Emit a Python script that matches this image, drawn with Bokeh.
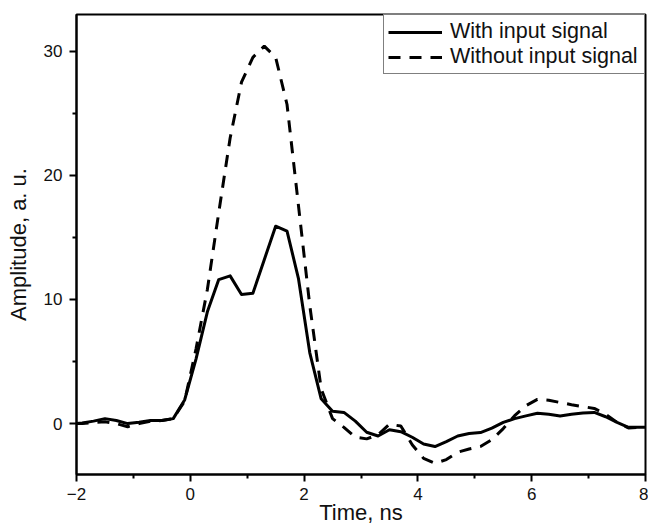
from bokeh.plotting import figure
from bokeh.models import Range1d, FixedTicker, Legend, LegendItem
from bokeh.embed import file_html
from bokeh.resources import INLINE

# ---- data ----
time_ns = [-2.0, -1.9, -1.7, -1.5, -1.3, -1.1, -0.9, -0.7, -0.5, -0.3, -0.1,
           0.1, 0.3, 0.5, 0.7, 0.9, 1.1, 1.3, 1.5, 1.7, 1.9,
           2.1, 2.3, 2.5, 2.7, 2.9, 3.1, 3.3, 3.5, 3.7, 3.9,
           4.1, 4.3, 4.5, 4.7, 4.9, 5.1, 5.3, 5.5, 5.7, 5.9,
           6.1, 6.3, 6.5, 6.7, 6.9, 7.1, 7.3, 7.5, 7.7, 7.9, 8.0]

with_signal = [0.0, 0.05, 0.2, 0.4, 0.25, 0.0, 0.1, 0.25, 0.25, 0.4, 1.9,
               5.2, 9.0, 11.6, 11.9, 10.4, 10.5, 13.2, 15.9, 15.5, 11.7,
               5.7, 2.0, 1.0, 0.9, 0.2, -0.7, -1.0, -0.5, -0.65, -1.1,
               -1.65, -1.85, -1.45, -1.0, -0.8, -0.72, -0.37, 0.1, 0.4, 0.62,
               0.84, 0.75, 0.62, 0.75, 0.85, 0.9, 0.55, 0.1, -0.3, -0.3, -0.3]

without_signal = [0.0, 0.0, 0.1, 0.15, 0.0, -0.25, 0.0, 0.2, 0.25, 0.4, 1.8,
                  6.0, 10.8, 17.0, 23.0, 27.5, 29.5, 30.4, 29.5, 25.7, 17.6,
                  9.5, 2.8, 0.4, -0.3, -1.1, -1.23, -0.9, -0.05, -0.2, -1.7,
                  -2.8, -3.2, -2.9, -2.3, -2.05, -1.85, -1.3, -0.4, 0.64, 1.45,
                  1.95, 1.88, 1.7, 1.52, 1.37, 1.22, 0.75, 0.1, -0.35, -0.3, -0.3]

x_major = [-2, 0, 2, 4, 6, 8]
x_minor = [-1, 1, 3, 5, 7]
y_major = [0, 10, 20, 30]
y_minor = [-5, 5, 15, 25]

series_labels = ["With input signal", "Without input signal"]

FONT = "Liberation Sans"
INK = "#111111"

p = figure(width=648, height=528,
           x_range=Range1d(-2, 8), y_range=Range1d(-4.1, 32.95),
           output_backend="svg", toolbar_location=None,
           min_border_left=76, min_border_right=3,
           min_border_top=14, min_border_bottom=54)

p.grid.visible = False
p.outline_line_color = "black"
p.outline_line_width = 2
p.background_fill_color = "white"
p.border_fill_color = "white"

r1 = p.line(time_ns, with_signal, line_color="black", line_width=3, line_join="round")
r2 = p.line(time_ns, without_signal, line_color="black", line_width=3, line_dash="12 9")

p.xaxis.ticker = FixedTicker(ticks=x_major, minor_ticks=x_minor)
p.yaxis.ticker = FixedTicker(ticks=y_major, minor_ticks=y_minor)

for ax in (p.xaxis[0], p.yaxis[0]):
    ax.axis_line_width = 2
    ax.axis_line_color = "black"
    ax.major_tick_line_width = 2
    ax.minor_tick_line_width = 2
    ax.major_tick_line_color = "black"
    ax.minor_tick_line_color = "black"
    ax.major_tick_in = 0
    ax.major_tick_out = 7
    ax.minor_tick_in = 0
    ax.minor_tick_out = 4
    ax.major_label_text_font = FONT
    ax.major_label_text_font_size = "17px"
    ax.major_label_text_color = INK
    ax.axis_label_text_font = FONT
    ax.axis_label_text_font_size = "22px"
    ax.axis_label_text_font_style = "normal"
    ax.axis_label_text_color = INK

p.xaxis.major_label_standoff = 6
p.yaxis.major_label_standoff = 7
p.xaxis.axis_label = "Time, ns"
p.xaxis.axis_label_standoff = -3
p.yaxis.axis_label = "Amplitude, a. u."
p.yaxis.axis_label_standoff = 10

legend = Legend(items=[LegendItem(label=series_labels[0], renderers=[r1]),
                       LegendItem(label=series_labels[1], renderers=[r2])],
                location="top_right", margin=0, padding=4, spacing=0,
                glyph_width=54, glyph_height=22, label_height=22,
                label_standoff=8, label_width=190,
                label_text_font=FONT, label_text_font_size="21.5px",
                label_text_color=INK,
                border_line_color="black", border_line_width=1.5,
                background_fill_color="white", background_fill_alpha=1.0)
p.add_layout(legend)

with open("out.html", "w") as f:
    f.write(file_html(p, INLINE))
